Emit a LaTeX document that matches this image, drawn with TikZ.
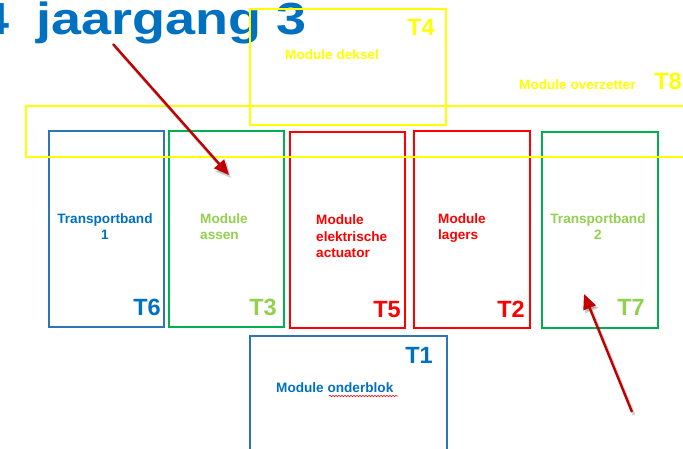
\documentclass[tikz,border=0pt]{standalone}
\usepackage{fontspec}
\setmainfont{Liberation Sans}
\usetikzlibrary{arrows.meta,decorations.pathmorphing}
\definecolor{tblue}{HTML}{0070C0}
\definecolor{bblue}{HTML}{2E75B6}
\definecolor{gbox}{HTML}{00B050}
\definecolor{gtext}{HTML}{92D050}
\definecolor{rred}{HTML}{FF0000}
\definecolor{yel}{HTML}{FFFF00}
\definecolor{arr}{HTML}{C00000}
\begin{document}
\begin{tikzpicture}[x=1pt,y=-1pt,
  box/.style={draw, line width=1.9pt, inner sep=0pt, anchor=north west},
  lbl/.style={font=\bfseries\fontsize{13.6}{16.3}\selectfont, inner sep=0pt, align=left, anchor=base west},
  clbl/.style={font=\bfseries\fontsize{13.6}{16.3}\selectfont, inner sep=0pt, align=center, anchor=base},
  tag/.style={font=\bfseries\fontsize{23.5}{24}\selectfont, inner sep=0pt, anchor=base east},
  pointer/.style={draw=arr, line width=2.4pt, -{Triangle[length=15pt,width=13pt]}},
  pshadow/.style={draw=black, opacity=0.18, line width=3pt, -{Triangle[length=15pt,width=14pt]}}]
\useasboundingbox (0,0) rectangle (683,449);
\clip (0,0) rectangle (683,449);

% title
\node[font=\bfseries\fontsize{45}{46}\selectfont, text=tblue, anchor=base east, inner sep=0pt, xscale=1.2] (title) at (307,35) {4\hspace{0.5em}jaargang 3};

% module boxes
\node[box, draw=bblue, minimum width=115pt, minimum height=196pt] (b6) at (48,130) {};
\node[box, draw=gbox, minimum width=115pt, minimum height=196pt] (b3) at (168,130) {};
\node[box, draw=rred, minimum width=115pt, minimum height=196pt] (b5) at (289,131) {};
\node[box, draw=rred, minimum width=116pt, minimum height=197pt] (b2) at (413,130) {};
\node[box, draw=gbox, minimum width=116pt, minimum height=196pt] (b7) at (541,131) {};
\node[box, draw=bblue, minimum width=197pt, minimum height=130pt] (b1) at (249,335) {};
\node[box, draw=yel, minimum width=196pt, minimum height=116pt] (b4) at (249,8) {};
\node[box, draw=yel, minimum width=700pt, minimum height=51pt] (b8) at (25,105) {};

% labels (anchor = baseline of last line)
\node[clbl, text=tblue] (l6) at (105,240) {Transportband\\1};
\node[lbl, text=gtext] (l3) at (200,240) {Module\\assen};
\node[lbl, text=rred] (l5) at (316,257.5) {Module\\elektrische\\actuator};
\node[lbl, text=rred] (l2) at (438,240) {Module\\lagers};
\node[clbl, text=gtext] (l7) at (598,240) {Transportband\\2};
\node[lbl, text=yel] (l4) at (285,60) {Module deksel};
\node[lbl, text=yel] (l8) at (519,90) {Module overzetter};
\node[lbl, text=tblue] (l1) at (276,392) {Module onderblok};

% tags
\node[tag, text=tblue] (t6) at (161,315) {T6};
\node[tag, text=gtext] (t3) at (277,315) {T3};
\node[tag, text=rred] (t5) at (401,317) {T5};
\node[tag, text=rred] (t2) at (525,317) {T2};
\node[tag, text=gtext] (t7) at (645,315) {T7};
\node[tag, text=yel] (t4) at (435,36) {T4};
\node[tag, text=yel] (t8) at (682,90) {T8};
\node[tag, text=tblue] (t1) at (433,363) {T1};

% spell-check squiggle
\coordinate (sq1) at (329,396);
\coordinate (sq2) at (398,396);
\draw[rred, line width=0.5pt, decorate, decoration={snake, amplitude=0.8pt, segment length=3pt}] (sq1) -- (sq2);

% arrows
\coordinate (a1s) at (113,44);
\coordinate (a1e) at (229,175);
\coordinate (a2s) at (632,412);
\coordinate (a2e) at (584,294);
\draw[pshadow] ([shift={(2,3)}]a1s) -- ([shift={(2,3)}]a1e);
\draw[pshadow] ([shift={(2,3)}]a2s) -- ([shift={(2,3)}]a2e);
\draw[pointer] (a1s) -- (a1e);
\draw[pointer] (a2s) -- (a2e);
\end{tikzpicture}
\end{document}
